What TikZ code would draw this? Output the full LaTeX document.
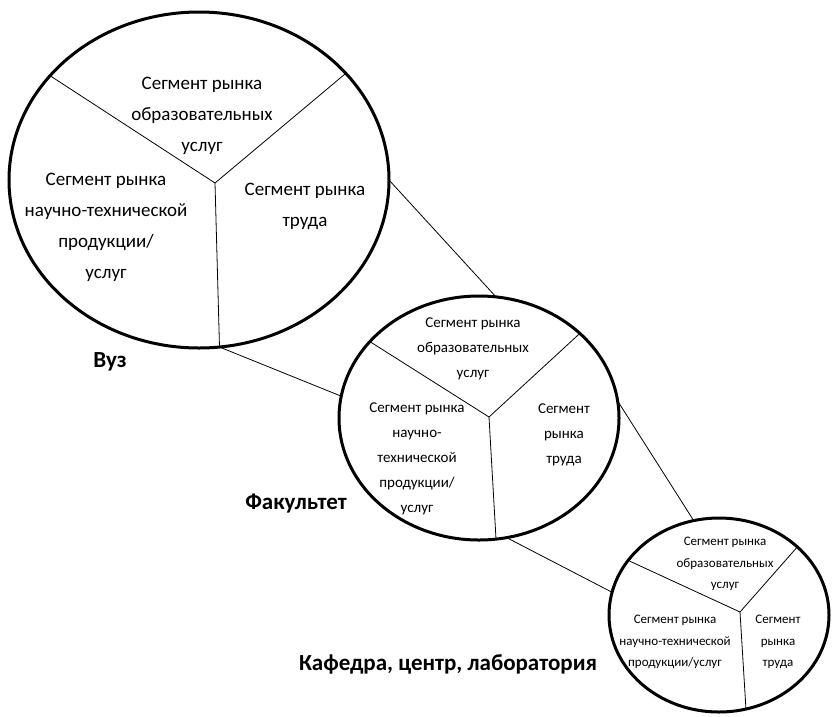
\documentclass[tikz,border=0pt]{standalone}
\usepackage{fontspec}
\setmainfont{Carlito}
\usetikzlibrary{shapes.geometric}

\tikzset{
  oval/.style={draw, ellipse, line width=3pt, inner sep=0pt, outer sep=0pt},
  spoke/.style={line width=0.8pt},
  big/.style={align=center, font=\fontsize{19}{31}\selectfont},
  mid/.style={align=center, font=\fontsize{15}{25}\selectfont},
  small/.style={align=center, font=\fontsize{13}{21.7}\selectfont},
  title/.style={font=\fontsize{23}{27}\selectfont\bfseries}
}

\begin{document}
\begin{tikzpicture}[x=1pt,y=-1pt]
\useasboundingbox (0,0) rectangle (832,716);

% ellipses
\node[oval, minimum width=380pt, minimum height=336pt] (vuz) at (199,180) {};
\node[oval, minimum width=280pt, minimum height=244pt] (fak) at (479,418) {};
\node[oval, minimum width=220pt, minimum height=194pt] (kaf) at (719,615) {};

% hubs
\coordinate (hv) at (215,183);
\coordinate (hf) at (489,417);
\coordinate (hk) at (740,612);

\draw[spoke] (hv) -- (vuz.145.6);
\draw[spoke] (hv) -- (vuz.36.7);
\draw[spoke] (hv) -- (vuz.277);
\draw[spoke] (hf) -- (fak.145.4);
\draw[spoke] (hf) -- (fak.40.9);
\draw[spoke] (hf) -- (fak.278);
\draw[spoke] (hk) -- (kaf.149.7);
\draw[spoke] (hk) -- (kaf.41);
\draw[spoke] (hk) -- (kaf.286.5);

% connectors
\draw[spoke] (vuz.0) -- (fak.82);
\draw[spoke] (vuz.277) -- (fak.171.5);
\draw[spoke] (fak.7) -- (kaf.105);
\draw[spoke] (fak.283) -- (kaf.168);

% segments
\node[big] (v1) at (202,116) {Сегмент рынка\\образовательных\\услуг};
\node[big] (v2) at (106,227) {Сегмент рынка\\научно-технической\\продукции/\\услуг};
\node[big] (v3) at (305,206) {Сегмент рынка\\труда};

\node[mid] (f1) at (473,349) {Сегмент рынка\\образовательных\\услуг};
\node[mid] (f2) at (417,459) {Сегмент рынка\\научно-\\технической\\продукции/\\услуг};
\node[mid] (f3) at (564,435) {Сегмент\\рынка\\труда};

\node[small] (k1) at (725,564) {Сегмент рынка\\образовательных\\услуг};
\node[small] (k2) at (675,642) {Сегмент рынка\\научно-технической\\продукции/услуг};
\node[small] (k3) at (778,642) {Сегмент\\рынка\\труда};

% titles
\node[title] (tv) at (110,362) {Вуз};
\node[title] (tf) at (296,504) {Факультет};
\node[title] (tk) at (448,664) {Кафедра, центр, лаборатория};
\end{tikzpicture}
\end{document}
